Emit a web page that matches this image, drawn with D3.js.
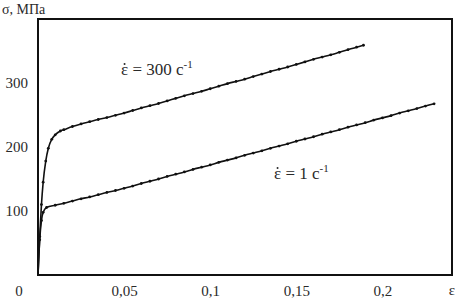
<!DOCTYPE html>
<html>
<head>
<meta charset="utf-8">
<script src="https://cdn.jsdelivr.net/npm/d3@7"></script>
<style>
	body { margin: 0; background: #fff; }
	.curve { fill: none; stroke: #111; stroke-width: 1.6; }
	.dot { fill: #111; }
</style>
</head>
<body>
<svg width="457" height="301"></svg>
<script>
// strain values and stress (MPa)
var eps_300 = [0, 0.001, 0.002, 0.003, 0.0045, 0.006, 0.008, 0.01, 0.013, 0.015, 0.02, 0.025, 0.03, 0.035, 0.04, 0.045,
	0.05, 0.055, 0.06, 0.065, 0.07, 0.075, 0.08, 0.085, 0.09, 0.095, 0.1, 0.105, 0.11, 0.115, 0.12, 0.125, 0.13,
	0.135, 0.14, 0.145, 0.15, 0.155, 0.16, 0.165, 0.17, 0.175, 0.18, 0.185, 0.189];
var sigma_300 = [0, 60, 110, 145, 178, 198, 212, 219, 225, 227, 232, 236, 239.5, 243, 246, 249.5,
	253, 257, 261, 264.5, 268, 272, 276, 280, 283.5, 287, 291, 295, 299, 302.5, 306, 310, 314,
	318, 321.5, 325, 329, 333, 337, 340.5, 344, 348, 352, 356, 359];

var eps_1 = [0, 0.001, 0.002, 0.003, 0.005, 0.01, 0.015, 0.02, 0.025, 0.03, 0.035, 0.04, 0.045, 0.05, 0.055,
	0.06, 0.065, 0.07, 0.075, 0.08, 0.085, 0.09, 0.095, 0.1, 0.105, 0.11, 0.115, 0.12, 0.125, 0.13, 0.135,
	0.14, 0.145, 0.15, 0.155, 0.16, 0.165, 0.17, 0.175, 0.18, 0.185, 0.19, 0.195, 0.2, 0.205, 0.21, 0.215,
	0.22, 0.225, 0.23];
var sigma_1 = [0, 55, 85, 98, 105.5, 109, 112, 115.5, 119, 122, 125.5, 129, 132, 135.5, 139,
	143, 146.5, 150, 154, 157.5, 161, 165, 168.5, 172, 176, 179.5, 183, 187, 190.5, 194, 198,
	201.5, 205, 209, 212.5, 216, 220, 223.5, 227, 231, 234.5, 238, 242, 245.5, 249, 253, 256.5,
	260, 264, 267.5];

var x_ticks = [0.05, 0.1, 0.15, 0.2];
var y_ticks = [100, 200, 300];

var serif = "'Liberation Serif', 'Times New Roman', serif";
var ink = "#2a2a2a";

var svg = d3.select("svg");

var x = d3.scaleLinear().domain([0, 0.2404]).range([38, 452]);
var y = d3.scaleLinear().domain([0, 400]).range([275, 19]);

function comma(d) { return String(d).replace(".", ","); }

function label(px, py, str, size, anchor) {
	return svg.append("text").attr("x", px).attr("y", py)
		.attr("text-anchor", anchor || "start")
		.style("font-family", serif).style("font-size", size + "px")
		.attr("fill", ink).text(str);
}

// frame
svg.append("rect")
	.attr("x", x(0)).attr("y", y(400))
	.attr("width", x(0.2404) - x(0)).attr("height", y(0) - y(400))
	.attr("fill", "none").attr("stroke", "#111").attr("stroke-width", 2);

// y tick labels
var yAxis = svg.append("g")
	.attr("transform", "translate(" + x(0) + ",0)")
	.call(d3.axisLeft(y).tickValues(y_ticks).tickSize(0).tickPadding(10));
yAxis.select(".domain").remove();

// x tick labels
var xAxis = svg.append("g")
	.attr("transform", "translate(0," + y(0) + ")")
	.call(d3.axisBottom(x).tickValues(x_ticks).tickFormat(comma).tickSize(0).tickPadding(10));
xAxis.select(".domain").remove();

svg.selectAll(".tick text")
	.style("font-family", serif).style("font-size", "15px").attr("fill", ink);

label(19, 296, "0", 15, "middle");
label(452, 295, "ε", 15, "middle");
label(2, 14, "σ, МПа", 14);

function drawCurve(eps, sig) {
	var pts = eps.map(function(e, i) { return [e, sig[i]]; });
	var line = d3.line()
		.x(function(d) { return x(d[0]); })
		.y(function(d) { return y(d[1]); })
		.curve(d3.curveMonotoneX);
	svg.append("path").attr("class", "curve").attr("d", line(pts));
	svg.append("g").selectAll("circle")
		.data(pts.slice(1))
		.enter().append("circle")
			.attr("class", "dot")
			.attr("cx", function(d) { return x(d[0]); })
			.attr("cy", function(d) { return y(d[1]); })
			.attr("r", 1.4);
}

drawCurve(eps_300, sigma_300);
drawCurve(eps_1, sigma_1);

// curve labels: ε with a dot above, then "= N с^-1"
function rateLabel(px, py, value) {
	var t = label(px, py, null, 17);
	var e = t.append("tspan").text("ε");
	t.append("tspan").text(" = " + value + " с");
	t.append("tspan").attr("dy", -7).style("font-size", "11px").text("-1");
	var w = e.node().getComputedTextLength();
	svg.append("circle").attr("cx", px + w / 2).attr("cy", py - 11)
		.attr("r", 1).attr("fill", ink);
}
rateLabel(121, 75, "300");
rateLabel(274, 179, "1");
</script>
</body>
</html>
